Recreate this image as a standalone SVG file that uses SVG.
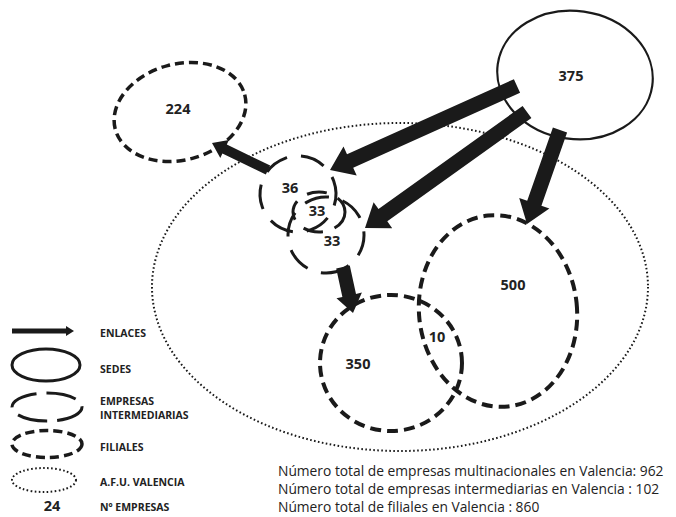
<svg xmlns="http://www.w3.org/2000/svg" width="676" height="517" viewBox="0 0 676 517">
<style>
.bg{fill:#fff}
.sede{fill:none;stroke:#1a1a1a;stroke-width:2.2}
.fil{fill:none;stroke:#1a1a1a;stroke-width:4;stroke-dasharray:11 6}
.int{fill:none;stroke:#1a1a1a;stroke-width:3;stroke-dasharray:25 14}
.afu{fill:none;stroke:#1a1a1a;stroke-width:2;stroke-dasharray:1.6 2.4}
.arr{fill:#1a1a1a;stroke:none}
.num{font-family:"Open Sans","Liberation Sans",sans-serif;font-weight:700;font-size:14.5px;fill:#222;text-anchor:middle}
.leg{font-family:"Open Sans","Liberation Sans",sans-serif;font-weight:700;font-size:10.5px;fill:#222}
.tot{font-family:"Open Sans","Liberation Sans",sans-serif;font-size:13.8px;fill:#222}
</style>
<rect class="bg" x="0" y="0" width="676" height="517"/>
<g id="afu-valencia"><ellipse class="afu" cx="400" cy="287" rx="248" ry="164"/></g>
<g id="sede-375"><ellipse class="sede" cx="575" cy="75" rx="78" ry="64" transform="rotate(8 575 75)"/><text class="num" x="571" y="81">375</text></g>
<g id="filial-224"><ellipse class="fil" cx="180" cy="112" rx="67" ry="48" transform="rotate(-15 180 112)" style="stroke-width:3.5;stroke-dasharray:9 5"/><text class="num" x="178" y="114">224</text></g>
<g id="filial-500"><ellipse class="fil" cx="498" cy="311" rx="79" ry="96" transform="rotate(-6 498 311)"/><text class="num" x="513" y="290">500</text></g>
<g id="filial-350"><ellipse class="fil" cx="391" cy="363" rx="71" ry="68"/><text class="num" x="358" y="369">350</text><text class="num" x="437" y="342">10</text></g>
<g id="inter-36"><circle class="int" cx="298" cy="194" r="38" transform="rotate(-20 298 194)"/><text class="num" x="290" y="193">36</text></g>
<g id="inter-33a"><ellipse class="int" cx="319" cy="212" rx="26" ry="20" style="stroke-dasharray:20 12"/><text class="num" x="317" y="216">33</text></g>
<g id="inter-33b"><circle class="int" cx="326" cy="235" r="38" transform="rotate(60 326 235)"/><text class="num" x="332" y="246">33</text></g>
<g id="connectors">
<polygon class="arr" points="513.9,79.2 347.0,154.2 343.5,146.4 330,170 356.7,175.6 353.2,167.8 520.1,92.8"/>
<polygon class="arr" points="522.6,105.9 378.5,209.1 373.6,202.2 365,228 392.2,228.2 387.3,221.3 531.4,118.1"/>
<polygon class="arr" points="552.9,127.5 527.2,200.7 519.2,197.9 527,224 549.4,208.5 541.4,205.7 567.1,132.5"/>
<polygon class="arr" points="270.2,165.5 226.8,144.6 228.9,140.1 212,143 220.3,158.1 222.4,153.6 265.8,174.5"/>
<polygon class="arr" points="336.2,268.5 342.4,296.9 336.5,298.2 353,313 361.9,292.6 356.0,293.9 349.8,265.5"/>
</g>
<g id="legend">
<polygon class="arr" points="12,328.5 66,328.5 66,326 74,331 66,336 66,333.5 12,333.5"/>
<text class="leg" x="100" y="337">ENLACES</text>
<ellipse class="sede" cx="46" cy="365" rx="34" ry="16" style="stroke-width:3"/>
<text class="leg" x="100" y="373">SEDES</text>
<ellipse class="int" cx="47" cy="407" rx="35" ry="14" style="stroke-dasharray:30 10"/>
<text class="leg" x="100" y="405">EMPRESAS</text>
<text class="leg" x="100" y="419">INTERMEDIARIAS</text>
<ellipse class="fil" cx="47" cy="444" rx="35" ry="13.5" style="stroke-width:3.5;stroke-dasharray:9 5"/>
<text class="leg" x="100" y="451">FILIALES</text>
<ellipse class="afu" cx="44" cy="480" rx="32" ry="12"/>
<text class="leg" x="100" y="486">A.F.U. VALENCIA</text>
<text class="num" x="52" y="511">24</text>
<text class="leg" x="100" y="511">Nº EMPRESAS</text>
</g>
<g id="totals">
<text class="tot" x="278" y="476">Número total de empresas multinacionales en Valencia: 962</text>
<text class="tot" x="278" y="494">Número total de empresas intermediarias en Valencia : 102</text>
<text class="tot" x="278" y="512">Número total de filiales en Valencia : 860</text>
</g>
</svg>
